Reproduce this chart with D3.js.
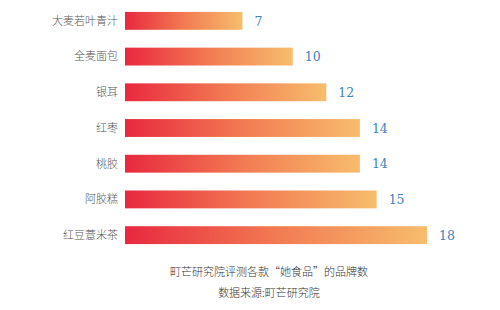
<!DOCTYPE html>
<html>
<head>
<meta charset="utf-8">
<script src="https://cdn.jsdelivr.net/npm/d3@7"></script>
<style>
  body { margin: 0; background: #fff; }
  .label { font-family: "Noto Sans CJK SC", sans-serif; font-size: 11px; font-weight: 300; fill: #555; }
  .value { font-family: "DejaVu Serif", "Liberation Serif", serif; font-size: 12.5px; fill: #4182be; }
  .caption { font-family: "Noto Sans CJK SC", sans-serif; font-size: 11px; font-weight: 300; fill: #333; }
</style>
</head>
<body>
<svg class="chart"></svg>
<script>
// chart data
var names = ["大麦若叶青汁", "全麦面包", "银耳", "红枣", "桃胶", "阿胶糕", "红豆薏米茶"];
var counts = [7, 10, 12, 14, 14, 15, 18];
var captions = ["町芒研究院评测各款“她食品”的品牌数", "数据来源:町芒研究院"];

var width = 500, height = 310;
var margin = { top: 3, left: 125 };

var svg = d3.select(".chart")
    .attr("width", width)
    .attr("height", height);

// per-bar gradient, red -> peach
var grad = svg.append("defs").append("linearGradient")
    .attr("id", "barGrad")
    .attr("x1", "0%").attr("x2", "100%")
    .attr("y1", "0%").attr("y2", "0%");
grad.append("stop").attr("offset", "0%").attr("stop-color", "#e8283f");
grad.append("stop").attr("offset", "50%").attr("stop-color", "#f27a52");
grad.append("stop").attr("offset", "100%").attr("stop-color", "#f7bd6c");

var x = d3.scaleLinear()
    .domain([0, 18])
    .range([margin.left, 427]);

var y = d3.scaleBand()
    .domain(names)
    .range([margin.top, 253])
    .paddingInner(0.5)
    .paddingOuter(0.25);

var data = names.map(function (n, i) { return { name: n, count: counts[i] }; });

var bars = svg.selectAll("g.bar").data(data)
    .enter().append("g")
    .attr("class", "bar");

bars.append("rect")
    .attr("x", x(0))
    .attr("y", d => y(d.name))
    .attr("height", y.bandwidth())
    .attr("width", d => x(d.count) - x(0))
    .attr("fill", "url(#barGrad)");

bars.append("text")
    .attr("class", "label")
    .attr("x", x(0) - 7)
    .attr("y", d => y(d.name) + y.bandwidth() / 2)
    .attr("dy", ".35em")
    .attr("text-anchor", "end")
    .text(d => d.name);

bars.append("text")
    .attr("class", "value")
    .attr("x", d => x(d.count) + 12)
    .attr("y", d => y(d.name) + y.bandwidth() / 2)
    .attr("dy", ".38em")
    .text(d => d.count);

svg.selectAll("text.caption").data(captions)
    .enter().append("text")
    .attr("class", "caption")
    .attr("x", 269)
    .attr("y", (d, i) => 276 + i * 21)
    .attr("text-anchor", "middle")
    .text(d => d);
</script>
</body>
</html>
